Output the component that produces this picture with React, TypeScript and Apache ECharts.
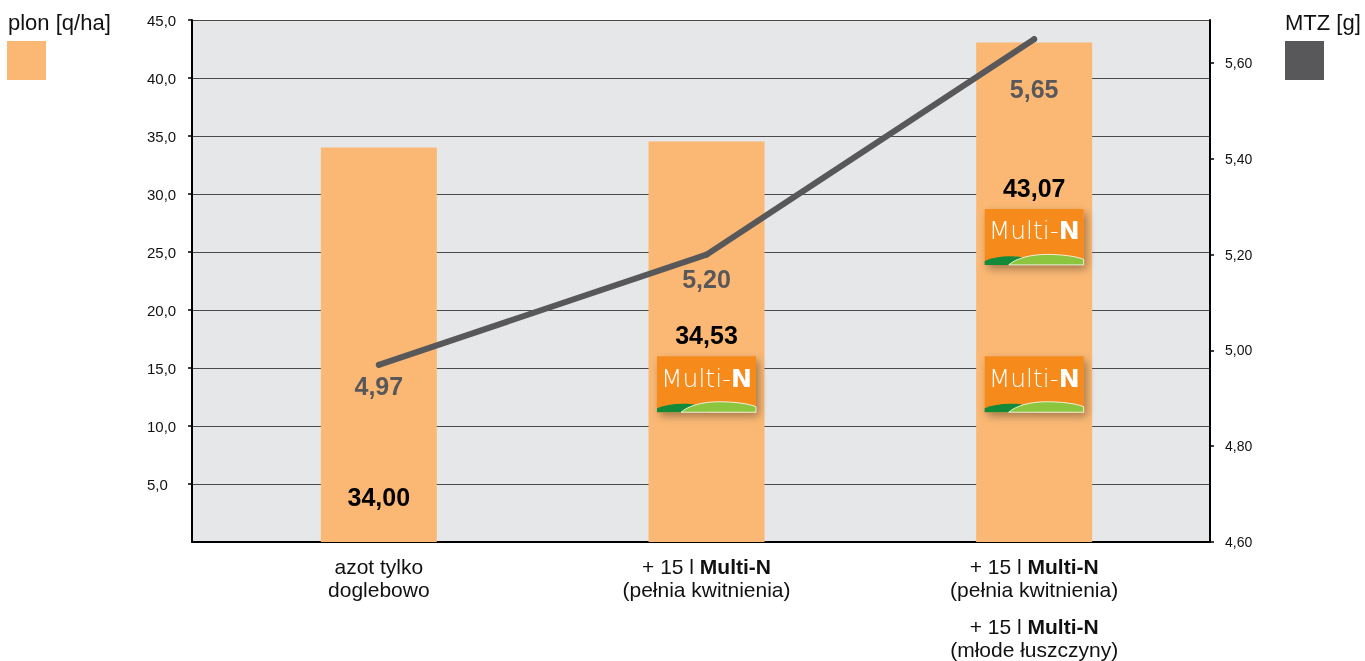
import React, { useEffect, useRef } from "react";
import * as echarts from "echarts";

// ---- data ----
const categories = [
  "azot tylko\ndoglebowo",
  "+ 15 l {b|Multi-N}\n(pełnia kwitnienia)",
  "+ 15 l {b|Multi-N}\n(pełnia kwitnienia)\n{g| }\n+ 15 l {b|Multi-N}\n(młode łuszczyny)",
];
const yieldValues = [34.0, 34.53, 43.07]; // plon [q/ha]
const tkwValues = [4.97, 5.2, 5.65]; // MTZ [g]
const yieldTicks = [5, 10, 15, 20, 25, 30, 35, 40, 45];
const tkwTicks = [4.6, 4.8, 5.0, 5.2, 5.4, 5.6];
// Multi-N badges: [category index, centre on yield axis]
const badges = [
  [1, 13.6],
  [2, 13.6],
  [2, 26.3],
];

// ---- label placement (styles, not data) ----
const barLabelOffsets = [349, 194, 146];
const lineLabelDistances = [6, 8.5, 34.5];

const FONT = "'Liberation Sans', Arial, Helvetica, sans-serif";
const BAR = "#FBB874";
const LINE = "#58585A";

const comma = (v: number, d: number) => v.toFixed(d).replace(".", ",");

export default function App() {
  const ref = useRef<HTMLDivElement>(null);
  useEffect(() => {
    if (!ref.current) return;
    const chart = echarts.init(ref.current, null, { renderer: "svg" });
    const gridTop = 20;
    const gridBottom = 119;
    const option: any = {
      animation: false,
      textStyle: { fontFamily: FONT },
      grid: [
        { left: 192, right: 155, top: gridTop, bottom: gridBottom, show: true, backgroundColor: "#E6E7E8", borderWidth: 0 },
        { left: 215, right: 167, top: gridTop, bottom: gridBottom },
      ],
      xAxis: [
        {
          gridIndex: 0,
          type: "value",
          min: 0,
          max: 1,
          axisLine: { show: true, lineStyle: { color: "#000", width: 2 } },
          axisTick: { show: false },
          axisLabel: { show: false },
          splitLine: { show: false },
        },
        {
          gridIndex: 1,
          type: "category",
          data: categories,
          axisLine: { show: false },
          axisTick: { show: false },
          axisLabel: {
            interval: 0,
            margin: 13,
            fontSize: 21,
            lineHeight: 23,
            color: "#111",
            fontFamily: FONT,
            rich: {
              b: { fontWeight: "bold", fontSize: 21, lineHeight: 23, color: "#111", fontFamily: FONT },
              g: { fontSize: 6, lineHeight: 14 },
            },
          },
        },
      ],
      yAxis: [
        {
          gridIndex: 0,
          type: "value",
          position: "left",
          min: 0,
          max: 45,
          interval: 5,
          axisLine: { show: true, lineStyle: { color: "#000", width: 2 } },
          axisTick: { show: true, length: 4, lineStyle: { color: "#000", width: 1.5 }, customValues: yieldTicks },
          axisLabel: {
            customValues: yieldTicks,
            align: "left",
            margin: 45,
            fontSize: 15,
            color: "#111",
            fontFamily: FONT,
            formatter: (v: number) => comma(v, 1),
          },
          splitLine: { show: true, lineStyle: { color: "#4a4a4a", width: 1 } },
        },
        {
          gridIndex: 0,
          type: "value",
          position: "right",
          min: 4.6,
          max: 5.69,
          interval: 0.2,
          axisLine: { show: true, lineStyle: { color: "#000", width: 2 } },
          axisTick: { show: true, length: 4, lineStyle: { color: "#000", width: 1.5 }, customValues: tkwTicks },
          axisLabel: {
            customValues: tkwTicks,
            margin: 15,
            fontSize: 14,
            color: "#111",
            fontFamily: FONT,
            formatter: (v: number) => comma(v, 2),
          },
          splitLine: { show: false },
        },
        { gridIndex: 1, type: "value", min: 0, max: 45, show: false, splitLine: { show: false } },
        { gridIndex: 1, type: "value", min: 4.6, max: 5.69, show: false, splitLine: { show: false } },
      ],
      series: [
        {
          type: "bar",
          name: "plon [q/ha]",
          xAxisIndex: 1,
          yAxisIndex: 2,
          barWidth: 116,
          itemStyle: { color: BAR },
          z: 2,
          data: yieldValues.map((v, i) => ({
            value: v,
            label: { position: ["50%", barLabelOffsets[i]] },
          })),
          label: {
            show: true,
            align: "center",
            verticalAlign: "middle",
            fontSize: 25,
            fontWeight: "bold",
            color: "#000",
            fontFamily: FONT,
            formatter: (p: any) => comma(p.value, 2),
          },
        },
        {
          type: "line",
          name: "MTZ [g]",
          xAxisIndex: 1,
          yAxisIndex: 3,
          z: 3,
          symbol: "circle",
          symbolSize: 6,
          itemStyle: { color: LINE },
          lineStyle: { color: LINE, width: 6, cap: "round" },
          data: tkwValues.map((v, i) => ({
            value: v,
            label: { distance: lineLabelDistances[i] },
          })),
          label: {
            show: true,
            position: "bottom",
            fontSize: 25,
            fontWeight: "bold",
            color: LINE,
            fontFamily: FONT,
            formatter: (p: any) => comma(p.value, 2),
          },
        },
        {
          type: "custom",
          name: "Multi-N",
          xAxisIndex: 1,
          yAxisIndex: 2,
          z: 4,
          data: badges,
          renderItem: (params: any, api: any) => {
            const c = api.coord([api.value(0), api.value(1)]);
            const w = 99;
            const h = 56;
            return {
              type: "group",
              x: c[0] - w / 2,
              y: c[1] - h / 2,
              children: [
                {
                  type: "rect",
                  shape: { x: 0, y: 0, width: w, height: h },
                  style: {
                    fill: "#F68B1F",
                    shadowBlur: 8,
                    shadowOffsetX: 3,
                    shadowOffsetY: 4,
                    shadowColor: "rgba(0,0,0,0.35)",
                  },
                },
                {
                  type: "path",
                  shape: { pathData: "M0 56 L0 52 C 8 48.5 18 47 30 47.5 C 40 48 46 51 50 56 Z" },
                  style: { fill: "#138A3A" },
                },
                {
                  type: "path",
                  shape: { pathData: "M24 56 C 31 49.5 46 45.5 62 45.5 C 78 45.5 92 47.5 99 50.5 L 99 56 Z" },
                  style: { fill: "#8CC63F", stroke: "#ffffff", lineWidth: 0.8 },
                },
                {
                  type: "text",
                  x: w / 2,
                  y: 22,
                  style: {
                    text: "{l|Multi-}{n|N}",
                    align: "center",
                    verticalAlign: "middle",
                    rich: {
                      l: { fontSize: 25, fontFamily: "'DejaVu Sans', sans-serif", fontWeight: 200, fill: "#fff", color: "#fff" },
                      n: { fontSize: 25, fontFamily: "'DejaVu Sans', sans-serif", fontWeight: "bold", fill: "#fff", color: "#fff" },
                    },
                  },
                },
              ],
            };
          },
        },
      ],
      graphic: [
        { type: "text", x: 8, y: 22, style: { text: "plon [q/ha]", fontSize: 22, fontFamily: FONT, fill: "#111", verticalAlign: "middle" } },
        { type: "rect", shape: { x: 7, y: 41, width: 39, height: 39 }, style: { fill: BAR } },
        { type: "text", x: 1285, y: 22, style: { text: "MTZ [g]", fontSize: 22, fontFamily: FONT, fill: "#111", verticalAlign: "middle" } },
        { type: "rect", shape: { x: 1285, y: 41, width: 39, height: 39 }, style: { fill: LINE } },
      ],
    };
    chart.setOption(option);
    return () => chart.dispose();
  }, []);
  return <div ref={ref} style={{ position: "fixed", left: 0, top: 0, width: 1365, height: 661 }} />;
}
